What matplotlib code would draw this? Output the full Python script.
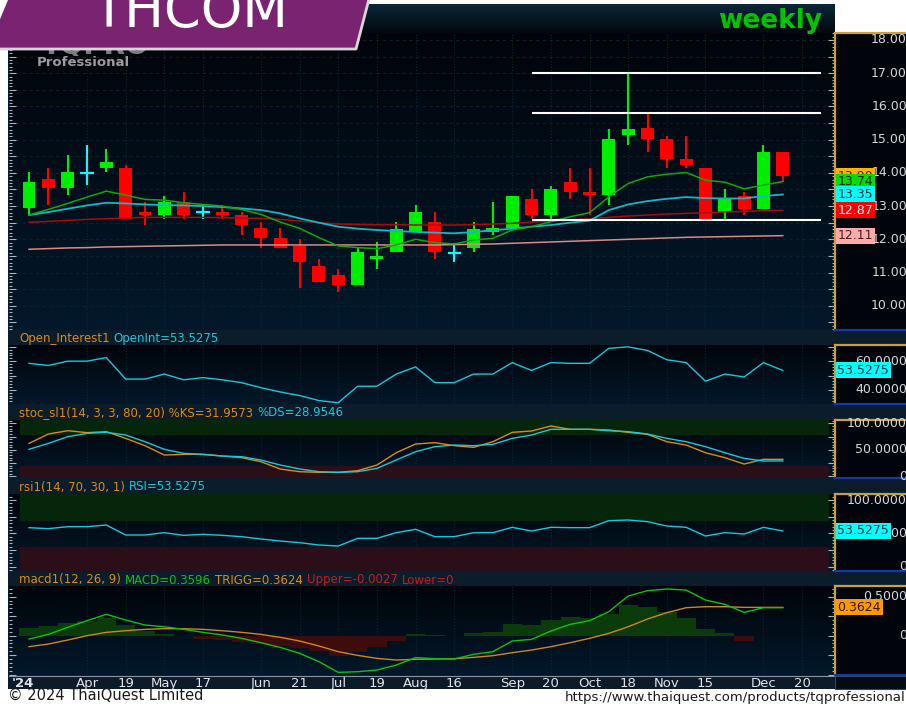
import numpy as np
import matplotlib
matplotlib.use('Agg')
import matplotlib.pyplot as plt
from matplotlib import transforms
from matplotlib.colors import LinearSegmentedColormap
from matplotlib.lines import Line2D
from matplotlib.patches import Polygon, Rectangle
from matplotlib.ticker import MultipleLocator

W, H = 906, 704

# weekly THCOM bars, week ending 2024-03-15 .. 2024-12-13
opens = [12.94, 13.81, 13.53, 14.00, 14.15, 14.14, 12.82, 12.73, 13.13, 12.81,
         12.81, 12.73, 12.33, 12.03, 11.80, 11.20, 10.92, 10.62, 11.42, 11.62,
         12.23, 12.51, 11.60, 11.73, 12.23, 12.33, 13.21, 12.73, 13.73, 13.43,
         13.33, 15.14, 15.35, 15.02, 14.42, 14.14, 12.83, 13.31, 12.91, 14.62]
highs = [14.02, 14.14, 14.54, 14.84, 14.72, 14.23, 13.13, 13.31, 13.43, 13.03,
         13.03, 12.83, 12.51, 12.33, 12.00, 11.40, 11.10, 11.73, 11.91, 12.51,
         13.03, 12.81, 11.88, 12.51, 13.13, 13.31, 13.51, 13.61, 14.14, 14.14,
         15.32, 17.00, 15.80, 15.12, 15.12, 14.14, 13.51, 13.43, 14.84, 14.62]
lows = [12.73, 13.03, 13.33, 13.63, 14.02, 12.61, 12.43, 12.61, 12.61, 12.61,
        12.61, 12.13, 11.73, 11.73, 10.52, 10.70, 10.40, 10.62, 11.10, 11.62,
        12.23, 11.42, 11.32, 11.62, 12.13, 12.33, 12.61, 12.61, 13.21, 12.73,
        13.03, 14.84, 14.64, 14.14, 14.14, 12.61, 12.61, 12.73, 12.91, 13.73]
closes = [13.73, 13.53, 14.02, 14.00, 14.32, 12.61, 12.73, 13.13, 12.73, 12.81,
          12.73, 12.43, 12.03, 11.73, 11.32, 10.70, 10.62, 11.61, 11.50, 12.31,
          12.81, 11.62, 11.60, 12.31, 12.33, 13.31, 12.73, 13.51, 13.43, 13.33,
          15.02, 15.32, 15.02, 14.42, 14.23, 12.61, 13.21, 12.91, 14.62, 13.90]

ma_green = [12.73, 12.90, 13.08, 13.27, 13.45, 13.33, 13.20, 13.18, 13.10, 13.05,
            13.00, 12.90, 12.75, 12.52, 12.33, 12.05, 11.80, 11.75, 11.72, 11.83,
            12.00, 11.90, 11.86, 11.98, 12.03, 12.28, 12.38, 12.53, 12.68, 12.80,
            13.28, 13.68, 13.88, 13.96, 14.01, 13.78, 13.72, 13.52, 13.63, 13.74]
ma_cyan = [12.73, 12.82, 12.92, 13.02, 13.10, 13.08, 13.05, 13.03, 13.02, 13.00,
           12.97, 12.93, 12.88, 12.78, 12.63, 12.50, 12.38, 12.32, 12.28, 12.25,
           12.22, 12.20, 12.18, 12.22, 12.27, 12.32, 12.38, 12.43, 12.50, 12.56,
           12.88, 13.05, 13.15, 13.22, 13.27, 13.24, 13.23, 13.23, 13.30, 13.35]
ma_red = [12.51, 12.54, 12.57, 12.60, 12.62, 12.64, 12.66, 12.66, 12.66, 12.66,
          12.65, 12.64, 12.63, 12.60, 12.55, 12.50, 12.46, 12.45, 12.44, 12.44,
          12.43, 12.43, 12.43, 12.44, 12.46, 12.48, 12.52, 12.55, 12.58, 12.62,
          12.66, 12.70, 12.73, 12.76, 12.78, 12.80, 12.82, 12.84, 12.86, 12.87]
ma_pink = [11.70, 11.72, 11.74, 11.75, 11.77, 11.78, 11.79, 11.80, 11.81, 11.82,
           11.83, 11.83, 11.83, 11.83, 11.83, 11.83, 11.83, 11.83, 11.83, 11.83,
           11.83, 11.83, 11.84, 11.85, 11.86, 11.88, 11.90, 11.92, 11.94, 11.96,
           11.98, 12.00, 12.02, 12.04, 12.06, 12.07, 12.08, 12.09, 12.10, 12.11]

# hand-drawn horizontal levels (start week, price)
level_prices = [17.00, 15.79, 12.57]
level_from = 27

rsi_values = [58.5, 57.0, 60.0, 60.0, 62.5, 47.5, 47.5, 51.0, 47.0, 48.5,
              47.0, 45.0, 41.5, 38.5, 36.0, 32.5, 31.0, 42.5, 42.5, 51.0,
              56.0, 45.0, 45.0, 51.0, 51.0, 59.0, 53.5, 59.0, 58.5, 58.5,
              69.0, 70.0, 67.5, 61.0, 59.0, 46.0, 51.0, 49.0, 59.0, 53.5275]
# the open interest feed shows the same figures as the RSI
open_interest = list(rsi_values)

stoch_k = [62.1, 79.8, 86.1, 82.4, 84.3, 71.6, 57.8, 40.1, 41.4, 41.4,
           38.2, 35.1, 27.5, 13.7, 8.6, 7.4, 7.4, 10.5, 21.2, 44.5,
           60.9, 63.5, 57.8, 54.6, 65.3, 83.0, 85.5, 95.0, 88.7, 88.7,
           87.4, 83.0, 79.2, 65.3, 59.0, 44.5, 35.1, 23.1, 32.0, 31.9573]
stoch_d = [50.9, 62.1, 74.7, 81.1, 83.0, 77.9, 65.3, 50.9, 43.3, 41.4,
           38.2, 37.0, 30.7, 21.2, 13.7, 8.6, 7.4, 8.6, 14.9, 30.7,
           46.4, 55.9, 59.0, 57.8, 60.3, 71.6, 77.9, 88.7, 88.7, 88.7,
           86.1, 84.3, 79.8, 71.6, 65.3, 55.9, 44.5, 33.8, 28.8, 28.9546]

macd_line = [-0.043, 0.017, 0.107, 0.192, 0.274, 0.201, 0.137, 0.115, 0.081, 0.043,
             0.009, -0.034, -0.090, -0.150, -0.226, -0.333, -0.470, -0.462, -0.440, -0.376,
             -0.282, -0.295, -0.299, -0.239, -0.205, -0.068, -0.047, 0.060, 0.145, 0.192,
             0.308, 0.509, 0.577, 0.598, 0.585, 0.457, 0.402, 0.299, 0.359, 0.3596]
macd_trigger = [-0.141, -0.107, -0.056, 0.000, 0.043, 0.064, 0.081, 0.090, 0.090, 0.081,
                0.064, 0.043, 0.017, -0.021, -0.068, -0.132, -0.205, -0.252, -0.291, -0.312,
                -0.303, -0.299, -0.295, -0.278, -0.256, -0.218, -0.184, -0.141, -0.090, -0.034,
                0.030, 0.115, 0.214, 0.295, 0.359, 0.372, 0.372, 0.363, 0.363, 0.3624]
macd_upper = -0.0027

tick_weeks = [0.12, 4, 6, 8, 10, 13, 15, 17, 19, 21, 23, 26, 28, 30, 32, 34, 36, 39, 41]
tick_labels = ["'24", 'Apr', '19', 'May', '17', 'Jun', '21', 'Jul', '19', 'Aug',
               '16', 'Sep', '20', 'Oct', '18', 'Nov', '15', 'Dec', '20']

weeks = np.arange(1, len(closes) + 1)
XLIM = (-0.035, 42.7)

BG = LinearSegmentedColormap.from_list('bg', ['#01050a', '#03182a'])
HEAD = LinearSegmentedColormap.from_list('head', ['#0b2739', '#02080e'])
GRAD = np.linspace(0, 1, 128).reshape(-1, 1)
GOLD = '#c9a13b'
AXTXT = '#d4d8dc'


def px(x0, y0, x1, y1):
    return [x0 / W, 1 - y1 / H, (x1 - x0) / W, (y1 - y0) / H]


fig = plt.figure(figsize=(W / 100, H / 100), dpi=100, facecolor='white')

# dark frame behind all panels and the header bars
fig.add_artist(Rectangle((8 / W, 1 - 689 / H), (W - 8) / W, (689 - 33) / H,
                         transform=fig.transFigure, fc='#0b1c2a', ec='none', zorder=-10))

top = fig.add_axes(px(8, 4, 835, 33))
top.imshow(GRAD, cmap=HEAD, extent=(0, 1, 0, 1), transform=top.transAxes, aspect='auto')
top.set_axis_off()


def make_panel(y0, y1, ylim, major, minor):
    ax = fig.add_axes(px(9, y0, 835, y1))
    ax.imshow(GRAD, cmap=BG, extent=(0, 1, 0, 1), transform=ax.transAxes,
              aspect='auto', zorder=-5)
    ax.set_xlim(XLIM)
    ax.set_ylim(ylim)
    for s in ax.spines.values():
        s.set_visible(False)
    ax.set_xticks([])
    ax.yaxis.set_major_locator(MultipleLocator(major))
    ax.yaxis.set_minor_locator(MultipleLocator(minor))
    ax.tick_params(axis='y', which='both', left=True, right=True, labelleft=False,
                   labelright=False, direction='in', colors='#aab4be', width=0.8)
    ax.tick_params(axis='y', which='major', length=5)
    ax.tick_params(axis='y', which='minor', length=2.5)
    for t in tick_weeks[1:]:
        ax.axvline(t, color='#0f2a3c', lw=0.7, ls=(0, (1, 2)), zorder=0)

    box = fig.add_axes(px(835, y0, 906, y1))
    box.set_facecolor('#01040a')
    box.set_xticks([])
    box.set_yticks([])
    box.spines['right'].set_visible(False)
    for k in ('left', 'top'):
        box.spines[k].set_color(GOLD)
        box.spines[k].set_linewidth(1.6)
    box.spines['bottom'].set_color('#1438b0')
    box.spines['bottom'].set_linewidth(1.6)
    return ax


def side_label(ax, y, s):
    tr = transforms.blended_transform_factory(fig.transFigure, ax.transData)
    fig.text(907 / W, y, s, transform=tr, ha='right', va='center', fontsize=9, color=AXTXT)


def value_box(ax, y, s, fc, tc):
    tr = transforms.blended_transform_factory(fig.transFigure, ax.transData)
    fig.text(837.5 / W, y, s, transform=tr, ha='left', va='center', fontsize=9, color=tc,
             zorder=6, bbox=dict(boxstyle='square,pad=0.12', fc=fc, ec='none'))


def header(y, parts, x=19):
    r = fig.canvas.get_renderer()
    for s, c in parts:
        t = fig.text(x / W, 1 - y / H, s, ha='left', va='center', fontsize=8.5, color=c)
        x += t.get_window_extent(r).width + 4


ORANGE = '#e08a10'
CYAN = '#18c8d8'

# ---- main price panel ----
ax = make_panel(33, 330, (9.27, 18.21), 0.5, 0.1)
for lv in np.arange(10, 18.01, 0.5):
    ax.axhline(lv, color='#0c2436', lw=0.6, ls=(0, (4, 4)), zorder=0)

for x, o, hi, lo, c in zip(weeks, opens, highs, lows, closes):
    if c > o:
        col = '#00ee00'
    elif c < o:
        col = '#ff0000'
    else:
        col = '#00ffff'
    ax.vlines(x, lo, hi, color=col, lw=1.5, zorder=3)
    if c == o:
        ax.hlines(c, x - 0.34, x + 0.34, color=col, lw=1.6, zorder=3)
    else:
        ax.bar(x, abs(c - o), bottom=min(o, c), width=0.67, color=col, zorder=3)

ax.plot(weeks, ma_pink, color='#d88a86', lw=1.1, zorder=4)
ax.plot(weeks, ma_red, color='#a80c0c', lw=1.1, zorder=4)
ax.plot(weeks, ma_cyan, color='#12b8c8', lw=1.3, zorder=4)
ax.plot(weeks, ma_green, color='#10a810', lw=1.1, zorder=4)
ax.hlines(level_prices, level_from, 42.0, color='white', lw=1.5, zorder=5)

for v in range(10, 19):
    side_label(ax, v, f'{v:.2f}')
value_box(ax, closes[-1], f'{closes[-1]:.2f}', '#ffb000', '#3a2a00')
value_box(ax, ma_green[-1], f'{ma_green[-1]:.2f}', '#00e000', '#002000')
value_box(ax, ma_cyan[-1], f'{ma_cyan[-1]:.2f}', '#00ffff', '#003040')
value_box(ax, ma_red[-1], f'{ma_red[-1]:.2f}', '#ff0000', '#ffffff')
value_box(ax, ma_pink[-1], f'{ma_pink[-1]:.2f}', '#ffaaaa', '#402020')

# ---- open interest ----
oi = make_panel(345, 404, (30.1, 71.3), 10, 2)
oi.plot(weeks, open_interest, color=CYAN, lw=1.0)
side_label(oi, 60, '60.0000')
side_label(oi, 40, '40.0000')
value_box(oi, open_interest[-1], f'{open_interest[-1]:.4f}', '#00ffff', '#003040')
header(339, [('Open_Interest1', ORANGE), (f'OpenInt={open_interest[-1]:.4f}', CYAN)])

# ---- stochastic ----
st = make_panel(420, 478, (-3.3, 106.3), 25, 5)
st.axhspan(80, 120, xmin=0.013, xmax=0.991, color='#06260b', zorder=1)
st.axhspan(-20, 20, xmin=0.013, xmax=0.991, color='#2a0f18', zorder=1)
st.plot(weeks, stoch_k, color=ORANGE, lw=1.0, zorder=3)
st.plot(weeks, stoch_d, color=CYAN, lw=1.0, zorder=3)
side_label(st, 100, '100.0000')
side_label(st, 50, '50.0000')
side_label(st, 0, '0')
header(413, [(f'stoc_sl1(14, 3, 3, 80, 20) %KS={stoch_k[-1]:.4f}', ORANGE),
             (f'%DS={stoch_d[-1]:.4f}', CYAN)])

# ---- RSI ----
rs = make_panel(494, 571, (-6.5, 109), 25, 5)
rs.axhspan(70, 120, xmin=0.013, xmax=0.991, color='#06260b', zorder=1)
rs.axhspan(-20, 30, xmin=0.013, xmax=0.991, color='#2a0f18', zorder=1)
rs.plot(weeks, rsi_values, color=CYAN, lw=1.0, zorder=3)
side_label(rs, 100, '100.0000')
side_label(rs, 50, '50.0000')
side_label(rs, 0, '0')
value_box(rs, rsi_values[-1], f'{rsi_values[-1]:.4f}', '#00ffff', '#003040')
header(487, [('rsi1(14, 70, 30, 1)', ORANGE), (f'RSI={rsi_values[-1]:.4f}', CYAN)])

# ---- MACD ----
mc = make_panel(586, 675, (-0.504, 0.637), 0.25, 0.05)
hist = np.array(macd_line) - np.array(macd_trigger)
mc.bar(weeks, hist, width=1.0, color=np.where(hist >= 0, '#0b3b0b', '#3d0c0c'), zorder=2)
mc.plot(weeks, macd_trigger, color='#d08420', lw=1.0, zorder=3)
mc.plot(weeks, macd_line, color='#12c012', lw=1.0, zorder=4)
side_label(mc, 0.5, '0.5000')
side_label(mc, 0, '0')
value_box(mc, macd_trigger[-1], f'{macd_trigger[-1]:.4f}', '#ff9900', '#2a1a00')
header(580, [('macd1(12, 26, 9)', ORANGE), (f'MACD={macd_line[-1]:.4f}', '#10c010'),
             (f'TRIGG={macd_trigger[-1]:.4f}', ORANGE),
             (f'Upper={macd_upper:.4f}', '#d01818'), ('Lower=0', '#d01818')])

# ---- date strip ----
dx = fig.add_axes(px(9, 676, 835, 689))
dx.set_facecolor('#0b1b2a')
dx.set_xlim(XLIM)
dx.set_ylim(0, 1)
dx.set_xticks([])
dx.set_yticks([])
for k in ('left', 'right', 'bottom'):
    dx.spines[k].set_visible(False)
dx.spines['top'].set_color('#8a929c')
for t, lab in zip(tick_weeks, tick_labels):
    dx.text(t, 0.45, lab, ha='left' if lab.startswith("'") else 'center', va='center',
            fontsize=9.5, fontweight='bold' if lab.startswith("'") else 'normal',
            color='#e0e3e6')
db = fig.add_axes(px(835, 676, 906, 689))
db.set_facecolor('#040b13')
db.set_xticks([])
db.set_yticks([])
for s in db.spines.values():
    s.set_color('#3a4450')

# ---- title decorations ----
# logo mostly hidden under the banner: only its lower edge shows
logo = fig.text(96 / W, 1 - 54 / H, 'TQPRO', ha='center', va='baseline', fontsize=20,
                fontweight='bold', color='#7c7c7c', zorder=3)
logo.set_clip_path(Rectangle((30 / W, 1 - 56 / H), 130 / W, 7 / H, transform=fig.transFigure))
fig.text(37 / W, 1 - 63 / H, 'Professional', ha='left', va='center', fontsize=9.5,
         fontweight='bold', color='#9c9c9c', zorder=3)
banner = [(8, 0), (368, 0), (356, 48), (-12, 48)]
fig.add_artist(Polygon([(x / W, 1 - y / H) for x, y in banner], closed=True,
                       transform=fig.transFigure, fc='#7a2370', ec='none', zorder=5))
fig.add_artist(Line2D([-12 / W, 356 / W, 369 / W], [1 - 49 / H, 1 - 49 / H, 1 + 1 / H],
                      transform=fig.transFigure, color='#d6d6d6', lw=2, zorder=5))
fig.text(92 / W, 1 - 27 / H, 'THCOM', ha='left', va='baseline', fontsize=38,
         color='white', zorder=6)
fig.text(822 / W, 1 - 21 / H, 'weekly', ha='right', va='center', fontsize=19,
         fontweight='bold', color='#00c400', zorder=6)

# ---- footer ----
fig.text(8 / W, 1 - 696 / H, '\u00a9 2024 ThaiQuest Limited', ha='left', va='center',
         fontsize=10.5, color='#1a1a1a')
fig.text(905 / W, 1 - 697 / H, 'https://www.thaiquest.com/products/tqprofessional',
         ha='right', va='center', fontsize=9.5, color='#1a1a1a')

fig.savefig('out.png', dpi=100, facecolor='white')
